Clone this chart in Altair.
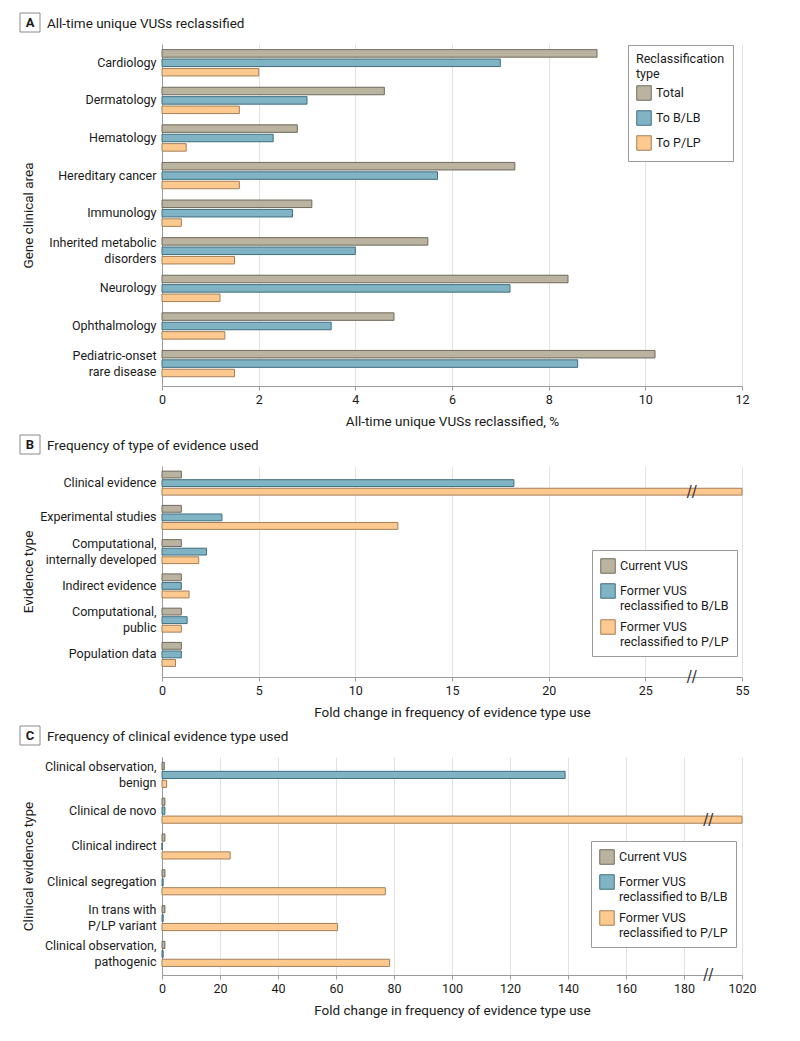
import altair as alt
import pandas as pd

FONT = "Roboto"
FILLS = ["#bab3a0", "#80b4c4", "#fdc98e"]
STROKES = ["#6f6a5c", "#3f6e7d", "#a47f58"]

# Panel A
A_areas = ["Cardiology", "Dermatology", "Hematology", "Hereditary cancer", "Immunology",
           "Inherited metabolic|disorders", "Neurology", "Ophthalmology", "Pediatric-onset|rare disease"]
A_series = ["Total", "To B/LB", "To P/LP"]
A_total = [9.0, 4.6, 2.8, 7.3, 3.1, 5.5, 8.4, 4.8, 10.2]
A_blb = [7.0, 3.0, 2.3, 5.7, 2.7, 4.0, 7.2, 3.5, 8.6]
A_plp = [2.0, 1.6, 0.5, 1.6, 0.4, 1.5, 1.2, 1.3, 1.5]
A_ticks = [0, 2, 4, 6, 8, 10, 12]

# Panel B
B_types = ["Clinical evidence", "Experimental studies", "Computational,|internally developed",
           "Indirect evidence", "Computational,|public", "Population data"]
B_series = ["Current VUS", "Former VUS|reclassified to B/LB", "Former VUS|reclassified to P/LP"]
B_current = [1.0, 1.0, 1.0, 1.0, 1.0, 1.0]
B_blb = [18.2, 3.1, 2.3, 1.0, 1.3, 1.0]
B_plp = [55.0, 12.2, 1.9, 1.4, 1.0, 0.7]
B_ticks = [0, 5, 10, 15, 20, 25, 30]
B_tick_labels = ["0", "5", "10", "15", "20", "25", "55"]
B_break = 27.4

# Panel C
C_types = ["Clinical observation,|benign", "Clinical de novo", "Clinical indirect",
           "Clinical segregation", "In trans with|P/LP variant", "Clinical observation,|pathogenic"]
C_series = B_series
C_current = [0.8, 1.0, 1.0, 1.0, 1.0, 1.0]
C_blb = [139.0, 1.0, 0.0, 0.4, 0.4, 0.4]
C_plp = [1.6, 1020.0, 23.5, 77.0, 60.5, 78.5]
C_ticks = [0, 20, 40, 60, 80, 100, 120, 140, 160, 180, 200]
C_tick_labels = ["0", "20", "40", "60", "80", "100", "120", "140", "160", "180", "1020"]
C_break = 188.4


def to_long(cats, series, cols, axis_end, tick_labels):
    top_label = float(tick_labels[-1])
    rows = []
    for i, c in enumerate(cats):
        for s, vals in zip(series, cols):
            v = vals[i]
            p = axis_end if v >= top_label and top_label != axis_end else v
            rows.append({"cat": c, "series": s, "value": v, "plot": p})
    return pd.DataFrame(rows)


def label_expr(ticks, labels):
    parts = []
    for t, l in zip(ticks, labels):
        if str(t) != l:
            parts.append(f"datum.value == {t} ? '{l}' : ")
    return "".join(parts) + "datum.label" if parts else None


def panel(letter, title, cats, series, cols, ticks, tick_labels, xtitle, ytitle, height,
          legend_title, legend_xy, y_po, box_top, brk=None, broken_cat=None):
    axis_end = ticks[-1]
    df = to_long(cats, series, cols, axis_end, tick_labels)
    step = height / (len(cats) + 2 * y_po)
    xaxis = dict(values=ticks, title=xtitle, grid=True, tickSize=4, labelPadding=3,
                 titlePadding=9, labelFlush=False)
    le = label_expr(ticks, tick_labels)
    if le:
        xaxis["labelExpr"] = le
    leg = dict(orient="none", legendX=legend_xy[0], legendY=legend_xy[1], fillColor="white",
               strokeColor="#9a9a9a", padding=8, symbolType="square", symbolSize=210,
               symbolStrokeWidth=1, labelFontSize=12.5, labelFont=FONT, labelColor="#1a1a1a",
               labelExpr="split(datum.label, '|')", rowPadding=5, labelLimit=300)
    if legend_title:
        leg.update(title=legend_title, titleFontSize=12.5, titleFont=FONT,
                   titleFontWeight="normal", titleColor="#1a1a1a", titlePadding=5)
    else:
        leg.update(title=None)
    xenc = alt.X("plot:Q", scale=alt.Scale(domain=[0, axis_end], nice=False),
                 axis=alt.Axis(**xaxis))
    yenc = alt.Y("cat:N", sort=cats,
                 scale=alt.Scale(paddingInner=0, paddingOuter=y_po, align=0),
                 axis=alt.Axis(title=ytitle, labelExpr="split(datum.label, '|')", ticks=False,
                               labelPadding=6, titleX=-127, titleY=height / 2,
                               labelLineHeight=16,
                               labelOffset={"condition": {"test": "indexof(datum.value, '|') >= 0",
                                                          "value": -8}, "value": 0},
                               titleAlign="center", titleBaseline="bottom", labelLimit=300))
    yoff = alt.YOffset("series:N", sort=series,
                       scale=alt.Scale(domain=series, range=[0, step],
                                       paddingInner=0.2, paddingOuter=0.6))
    bars = alt.Chart(df).mark_bar(strokeWidth=1).encode(
        x=xenc, y=yenc, yOffset=yoff,
        color=alt.Color("series:N", scale=alt.Scale(domain=series, range=FILLS),
                        legend=alt.Legend(**leg)),
        stroke=alt.Stroke("series:N", scale=alt.Scale(domain=series, range=STROKES),
                          legend=alt.Legend(**leg)),
    )
    hdr = pd.DataFrame({"t": [letter]})
    box = alt.Chart(hdr).mark_rect(fill="white", stroke="#8a8a8a", strokeWidth=1).encode(
        x=alt.value(-142), x2=alt.value(-122), y=alt.value(box_top), y2=alt.value(box_top + 19))
    letter_txt = alt.Chart(hdr).mark_text(font=FONT, fontSize=13, fontWeight="bold",
                                          color="#1a1a1a", baseline="middle", align="center").encode(
        x=alt.value(-132), y=alt.value(box_top + 10), text="t:N")
    title_txt = alt.Chart(pd.DataFrame({"t": [title]})).mark_text(
        font=FONT, fontSize=13.5, color="#1a1a1a", baseline="alphabetic", align="left").encode(
        x=alt.value(-115), y=alt.value(box_top + 14.5), text="t:N")
    layers = [bars, box, letter_txt, title_txt]
    if brk is not None:
        bdf = pd.DataFrame({"cat": [broken_cat], "series": [series[2]], "plot": [brk], "t": ["//"]})
        brk_bar = alt.Chart(bdf).mark_text(font="DejaVu Sans", fontSize=15, color="#333",
                                           baseline="middle", align="center").encode(
            x=alt.X("plot:Q"), y=alt.Y("cat:N", sort=cats),
            yOffset=alt.YOffset("series:N", sort=series), text="t:N")
        brk_axis = alt.Chart(bdf).mark_text(font="DejaVu Sans", fontSize=15, color="#333",
                                            baseline="middle", align="center").encode(
            x=alt.X("plot:Q"), y=alt.value(height), text="t:N")
        layers += [brk_bar, brk_axis]
    return alt.layer(*layers).properties(width=580, height=height)


pA = panel("A", "All-time unique VUSs reclassified", A_areas, A_series, [A_total, A_blb, A_plp],
           A_ticks, [str(t) for t in A_ticks], "All-time unique VUSs reclassified, %",
           "Gene clinical area", 342, ["Reclassification", "type"], (466, 1), 0.048, -31)
pB = panel("B", "Frequency of type of evidence used", B_types, B_series, [B_current, B_blb, B_plp],
           B_ticks, B_tick_labels, "Fold change in frequency of evidence type use",
           "Evidence type", 211, None, (430, 84), 0.08, -31, B_break, B_types[0])
pC = panel("C", "Frequency of clinical evidence type used", C_types, C_series, [C_current, C_blb, C_plp],
           C_ticks, C_tick_labels, "Fold change in frequency of evidence type use",
           "Clinical evidence type", 218, None, (429, 84), 0.045, -31, C_break, C_types[1])

chart = alt.vconcat(pA, pB, pC, spacing=6).resolve_scale(
    color="independent", stroke="independent", yOffset="independent", y="independent",
    x="independent") \
    .properties(padding={"left": 11, "top": 4, "right": 5, "bottom": 5}).configure(
    font=FONT).configure_view(stroke=None).configure_axis(
    labelFont=FONT, titleFont=FONT, labelFontSize=12.5, titleFontSize=13.5, titleFontWeight="normal",
    labelColor="#1a1a1a", titleColor="#1a1a1a", domainColor="#9a9a9a", tickColor="#9a9a9a",
    gridColor="#e2e2e2")

chart.save("out.html", embed_options={"renderer": "svg", "actions": False})
